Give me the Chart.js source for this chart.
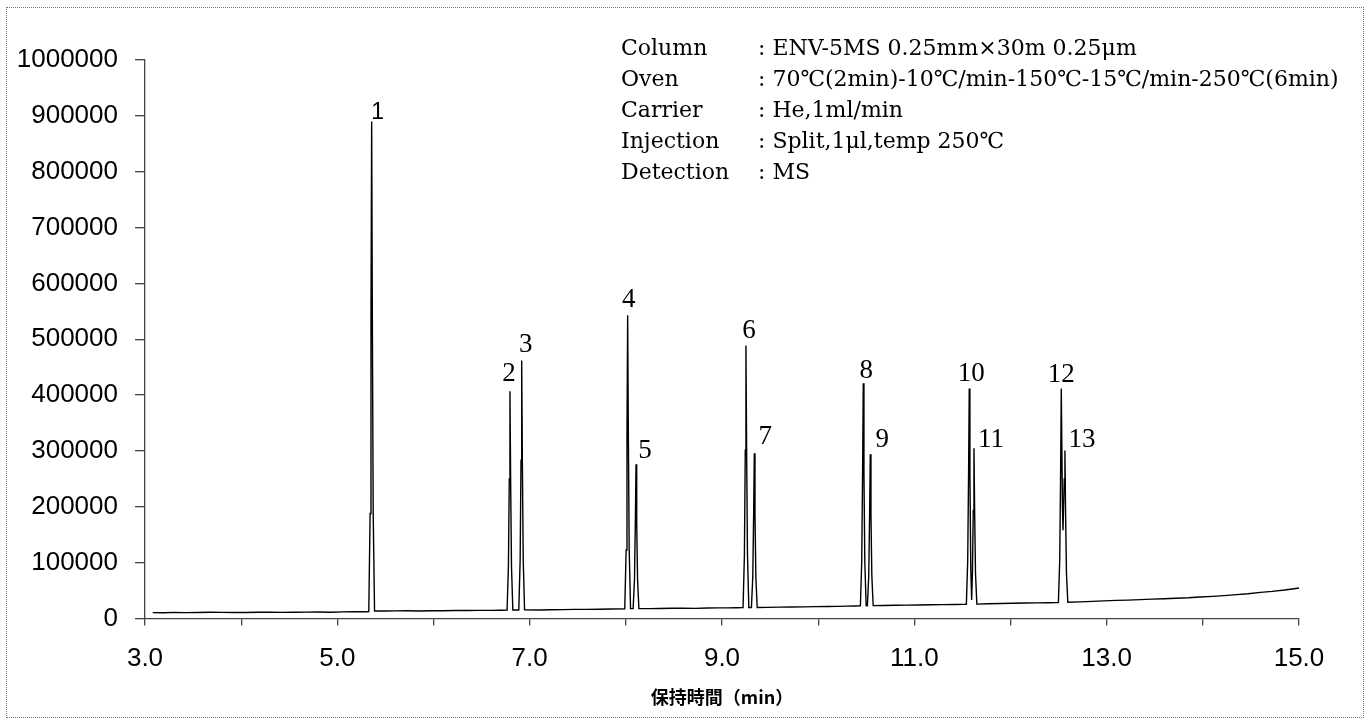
<!DOCTYPE html>
<html><head><meta charset="utf-8">
<script src="https://cdn.jsdelivr.net/npm/chart.js@4"></script>
<style>
html,body{margin:0;padding:0;background:#fff;}
#wrap{position:relative;width:1371px;height:725px;}
#frame{position:absolute;left:6px;top:7px;width:1356px;height:709px;border:1px dotted #777;pointer-events:none;}
canvas{position:absolute;left:0;top:0;}
</style></head><body>
<div id="wrap"><canvas id="c" width="1371" height="725"></canvas><div id="frame"></div></div>
<script>
// ---- data ----
const traceTimes = [
  3.08, 3.20, 3.30, 3.42, 3.55, 3.68, 3.80, 3.93, 4.05, 4.18, 4.30, 4.42, 4.55, 4.68, 4.80, 4.93, 5.05, 5.18, 5.30,
  5.327, 5.341, 5.350, 5.357, 5.364, 5.373, 5.387,
  5.50, 5.60, 5.72, 5.85, 5.97, 6.10, 6.22, 6.35, 6.47, 6.60, 6.70,
  6.765, 6.779, 6.788, 6.795, 6.802, 6.811, 6.825, 6.856,
  6.887, 6.901, 6.910, 6.917, 6.924, 6.933, 6.947,
  7.10, 7.22, 7.35, 7.47, 7.60, 7.72, 7.85,
  7.989, 8.003, 8.012, 8.019, 8.026, 8.035, 8.049,
  8.076, 8.090, 8.099, 8.106, 8.113, 8.122, 8.136,
  8.25, 8.35, 8.47, 8.60, 8.72, 8.85, 8.95, 9.05, 9.15,
  9.219, 9.233, 9.242, 9.249, 9.256, 9.265, 9.279,
  9.306, 9.320, 9.329, 9.336, 9.343, 9.352, 9.366,
  9.47, 9.60, 9.72, 9.85, 9.97, 10.10, 10.20, 10.30, 10.38,
  10.439, 10.453, 10.462, 10.469, 10.476, 10.485, 10.499,
  10.512, 10.526, 10.535, 10.542, 10.549, 10.558, 10.572,
  10.68, 10.80, 10.92, 11.05, 11.17, 11.30, 11.42, 11.50,
  11.541, 11.555, 11.564, 11.571, 11.578, 11.587, 11.596,
  11.604, 11.613, 11.620, 11.627, 11.636, 11.650,
  11.77, 11.90, 12.02, 12.15, 12.27, 12.40, 12.46,
  12.498, 12.512, 12.521, 12.528, 12.540, 12.546, 12.559, 12.566, 12.573, 12.582, 12.596,
  12.72, 12.85, 12.97, 13.10, 13.22, 13.35, 13.47, 13.60, 13.72, 13.85, 13.97,
  14.10, 14.22, 14.35, 14.47, 14.60, 14.72, 14.85, 14.93, 15.00
];
const traceSignal = [
  10600, 10400, 10900, 10600, 10700, 11100, 11000, 10700, 10800, 11300, 11200, 10900, 11100, 11500, 11600, 11300, 11800, 12100, 12200,
  12400, 188000, 539000, 890000, 539000, 188000, 13500,
  13300, 13600, 13900, 13400, 13800, 14000, 14400, 14200, 14500, 14600, 14900,
  15000, 93000, 250000, 407000, 250000, 93000, 15200, 15100,
  15200, 104600, 283300, 462000, 283300, 104600, 15400,
  15300, 15700, 15900, 16300, 16400, 16600, 17100,
  17500, 122600, 332800, 543000, 332800, 122600, 17700,
  17700, 69400, 172700, 276000, 172700, 69400, 17800,
  17600, 18000, 18300, 18400, 18200, 18700, 19100, 19000, 19200,
  19400, 113400, 301200, 489000, 301200, 113400, 19600,
  19600, 74900, 185400, 296000, 185400, 74900, 19700,
  19900, 20300, 20600, 20800, 21300, 21600, 21700, 22200, 22300,
  22500, 102200, 261600, 421000, 261600, 102200, 23000,
  22900, 77000, 185500, 294000, 185500, 77000, 23000,
  23300, 23600, 24000, 24100, 24600, 24800, 25200, 25300,
  25500, 102800, 257400, 412000, 257400, 90000, 33000,
  81600, 193300, 305000, 193300, 81600, 25800,
  26300, 26800, 27300, 27700, 27900, 28300, 28400,
  28600, 105300, 258600, 412000, 200000, 158000, 250000, 301000, 185000, 80000, 29000,
  29700, 30600, 31500, 32400, 32900, 33800, 34700, 35300, 36300, 37100, 38400,
  39600, 40900, 42800, 44400, 46700, 48500, 51000, 52900, 54500
];
const peakNames   = ['1','2','3','4','5','6','7','8','9','10','11','12','13'];
const peakTimes   = [5.357, 6.795, 6.917, 8.019, 8.106, 9.249, 9.336, 10.469, 10.542, 11.571, 11.620, 12.528, 12.566];
const peakHeights = [890000, 407000, 462000, 543000, 276000, 489000, 296000, 421000, 294000, 412000, 305000, 412000, 301000];
const xTickValues = [3, 4, 5, 6, 7, 8, 9, 10, 11, 12, 13, 14, 15];
const xTickLabels = ['3.0', '', '5.0', '', '7.0', '', '9.0', '', '11.0', '', '13.0', '', '15.0'];
const yTickValues = [0, 100000, 200000, 300000, 400000, 500000, 600000, 700000, 800000, 900000, 1000000];
const yTickLabels = ['0', '100000', '200000', '300000', '400000', '500000', '600000', '700000', '800000', '900000', '1000000'];
const xAxisTitle = '保持時間（min）';
const conditionNames  = ['Column', 'Oven', 'Carrier', 'Injection', 'Detection'];
const conditionValues = [
  ': ENV-5MS 0.25mm\u00D730m 0.25\u03BCm',
  ': 70\u2103(2min)-10\u2103/min-150\u2103-15\u2103/min-250\u2103(6min)',
  ': He,1ml/min',
  ': Split,1\u03BCl,temp 250\u2103',
  ': MS'
];

// ---- label placement (pixel offsets from each apex) ----
const labelDx = [6, -1, 4, 1, 9, 3, 11, 3, 12, 2, 17, 0, 17];
const labelDy = [-2, -10, -8, -8, -6, -7, -9, -5, -7, -7, -1, -6, -3];

const points = traceTimes.map((t, i) => ({x: t, y: traceSignal[i]}));

const peakLabelPlugin = {
  id: 'peakLabels',
  afterDatasetsDraw(chart) {
    const {ctx, scales: {x, y}} = chart;
    ctx.save();
    ctx.fillStyle = '#000';
    ctx.textBaseline = 'alphabetic';
    ctx.textAlign = 'center';
    peakNames.forEach((name, i) => {
      ctx.font = i === 0 ? '23px "Liberation Sans", Arial, sans-serif' : '27px "Liberation Serif", "Times New Roman", serif';
      const px = x.getPixelForValue(peakTimes[i]) + labelDx[i];
      const py = y.getPixelForValue(peakHeights[i]) + labelDy[i];
      ctx.fillText(name, px, py);
    });
    ctx.restore();
  }
};

const conditionsPlugin = {
  id: 'conditions',
  afterDraw(chart) {
    const {ctx} = chart;
    ctx.save();
    ctx.fillStyle = '#000';
    ctx.textAlign = 'left';
    ctx.textBaseline = 'alphabetic';
    ctx.font = '22px "DejaVu Serif", serif';
    conditionNames.forEach((n, i) => {
      const by = 55 + i * 31;
      ctx.fillText(n, 621, by);
      ctx.fillText(conditionValues[i], 758, by);
    });
    ctx.restore();
  }
};

const axisColor = '#444';

new Chart(document.getElementById('c'), {
  type: 'scatter',
  data: {
    datasets: [{
      data: points,
      showLine: true,
      borderColor: '#000',
      borderWidth: 1.4,
      pointRadius: 0,
      tension: 0,
      fill: false
    }]
  },
  options: {
    responsive: false,
    animation: false,
    devicePixelRatio: 1,
    layout: {padding: {left: 0, top: 60, right: 72, bottom: 0}},
    plugins: {legend: {display: false}, tooltip: {enabled: false}},
    scales: {
      x: {
        type: 'linear',
        min: 3, max: 15,
        afterBuildTicks: s => { s.ticks = xTickValues.map(v => ({value: v})); },
        afterFit: s => { s.height = 106.5; },
        ticks: {
          autoSkip: false, maxRotation: 0, minRotation: 0,
          padding: 18,
          color: '#000',
          font: {family: '"Liberation Sans", Arial, sans-serif', size: 26},
          callback: (v, i) => xTickLabels[i]
        },
        grid: {drawOnChartArea: false, drawTicks: true, tickLength: 7, color: axisColor, lineWidth: 1.3},
        border: {display: true, color: axisColor, width: 1.3},
        title: {
          display: true, text: xAxisTitle, color: '#000',
          font: {family: '"Noto Sans CJK JP", sans-serif', size: 18, weight: 'bold'},
          padding: {top: 0, bottom: 17}
        }
      },
      y: {
        type: 'linear',
        min: 0, max: 1000000,
        afterBuildTicks: s => { s.ticks = yTickValues.map(v => ({value: v})); },
        afterFit: s => { s.width = 145; },
        ticks: {
          autoSkip: false,
          padding: 17,
          color: '#000',
          font: {family: '"Liberation Sans", Arial, sans-serif', size: 26},
          callback: (v, i) => yTickLabels[i]
        },
        grid: {drawOnChartArea: false, drawTicks: true, tickLength: 10, color: axisColor, lineWidth: 1.3},
        border: {display: true, color: axisColor, width: 1.3}
      }
    }
  },
  plugins: [peakLabelPlugin, conditionsPlugin]
});
</script>
</body></html>
